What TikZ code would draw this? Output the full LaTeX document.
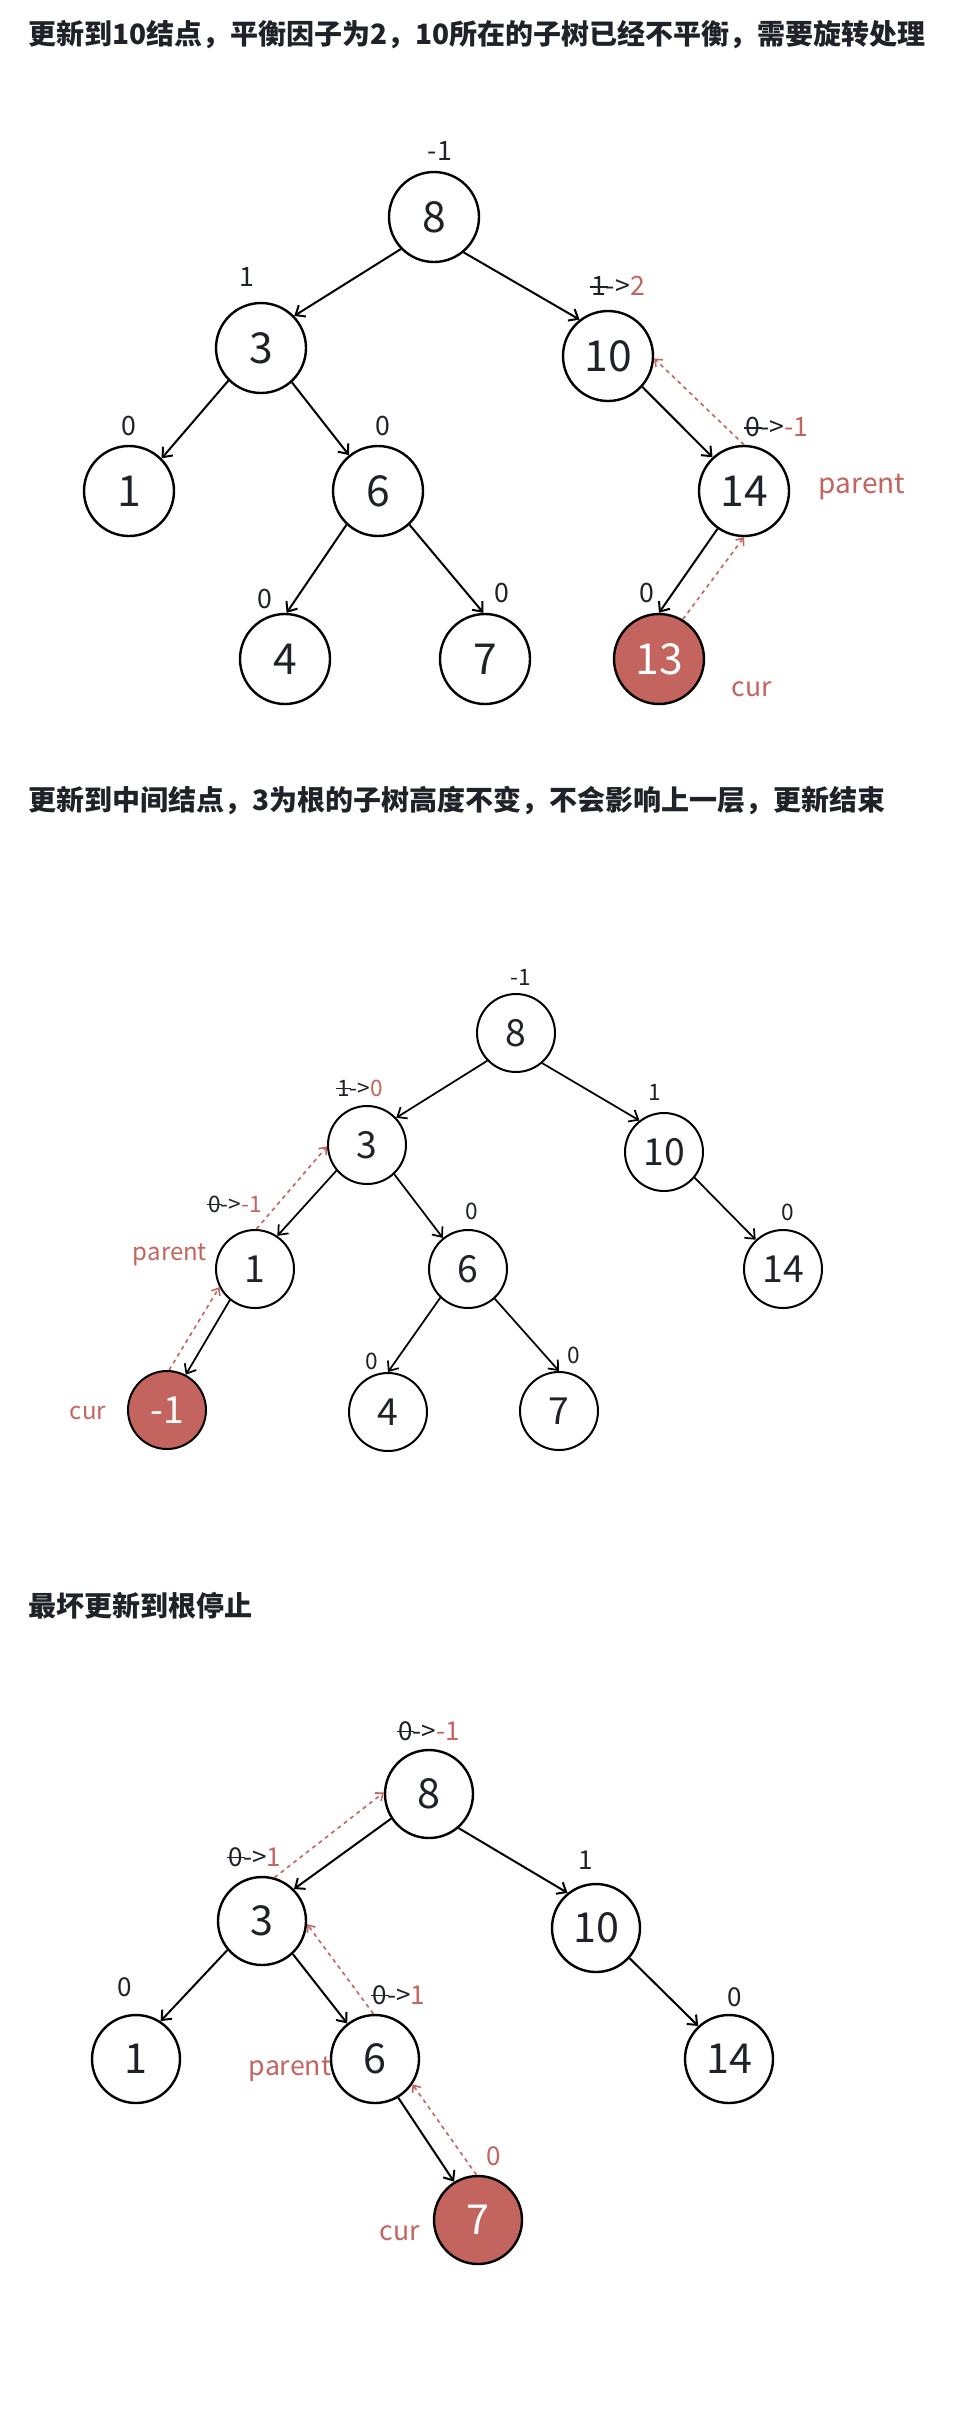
\documentclass[tikz,border=0pt]{standalone}
\usepackage{fontspec}
\setmainfont{Noto Sans CJK SC}
\usetikzlibrary{arrows.meta}
\definecolor{ink}{RGB}{31,35,41}
\definecolor{hl}{RGB}{196,100,95}
\newcommand{\fsz}[1]{\fontsize{#1pt}{#1pt}\selectfont}
\newcommand{\strk}[1]{\setbox0\hbox{#1}\rlap{\kern-0.06em\rule[0.3em]{\dimexpr\wd0+0.12em\relax}{0.07em}}\box0}
\tikzset{
  tnode/.style={circle, draw=black, line width=1.8pt, minimum size=#1, inner sep=0pt, text=ink},
  curnode/.style={tnode=#1, fill=hl, text=white},
  edgeA/.style={-{Straight Barb[length=6pt,width=10pt]}, line width=1.5pt, black},
  redge/.style={-{Straight Barb[length=4.5pt,width=7.5pt]}, line width=1.2pt, hl, dash pattern=on 3pt off 3pt},
  lbl/.style={text=ink, inner sep=0pt},
  rlbl/.style={text=hl, inner sep=0pt},
  ttl/.style={anchor=west, inner sep=0pt, font=\bfseries\fsz{21}, text=ink}
}
\begin{document}
\begin{tikzpicture}[x=0.75pt,y=-0.75pt]
\useasboundingbox[fill=white] (0,0) rectangle (975,2417);

% ---------- Titles ----------
\node[ttl] (t1) at (28,35) {更新到10结点，平衡因子为2，10所在的子树已经不平衡，需要旋转处理};
\node[ttl] (t2) at (28,801) {更新到中间结点，3为根的子树高度不变，不会影响上一层，更新结束};
\node[ttl] (t3) at (28,1606) {最坏更新到根停止};

% ---------- Section 1 ----------
\begin{scope}[every node/.append style={font=\fsz{32}}]
\node[tnode=67.5pt] (a8) at (434,217) {8};
\node[tnode=67.5pt] (a3) at (261,348) {3};
\node[tnode=67.5pt] (a1) at (129,491) {1};
\node[tnode=67.5pt] (a6) at (378,491) {6};
\node[tnode=67.5pt] (a4) at (285,659) {4};
\node[tnode=67.5pt] (a7) at (485,659) {7};
\node[tnode=67.5pt] (a10) at (608,356) {10};
\node[tnode=67.5pt] (a14) at (744,491) {14};
\node[curnode=67.5pt] (a13) at (659,659) {13};
\end{scope}
\begin{scope}[every node/.append style={font=\fsz{20}}]
\node[lbl] (la8) at (440,151) {-1};
\node[lbl] (la3) at (247,277) {1};
\node[lbl] (la1) at (129,426) {0};
\node[lbl] (la6) at (383,426) {0};
\node[lbl] (la4) at (265,599) {0};
\node[lbl] (la7) at (502,593) {0};
\node[lbl] (la10) at (618,286) {\strk{1}->{\color{hl}2}};
\node[lbl] (la14) at (777,427) {\strk{0}->{\color{hl}-1}};
\node[lbl] (la13) at (647,593) {0};
\node[rlbl, font=\fsz{21}] (pa) at (862,487) {parent};
\node[rlbl] (ca) at (752,689) {cur};
\end{scope}
\draw[edgeA] (a8.-136) -- (a3.44);
\draw[edgeA] (a8.-50) -- (a10.128);
\draw[edgeA] (a3.-135) -- (a1.45);
\draw[edgeA] (a3.-48) -- (a6.129);
\draw[edgeA] (a6.-133) -- (a4.88);
\draw[edgeA] (a6.-47) -- (a7.92);
\draw[edgeA] (a10.-42) -- (a14.133);
\draw[edgeA] (a14.-125) -- (a13.90);
\draw[redge] (a14.90) -- (a10.-3);
\draw[redge] (a13.59) -- (a14.-90);

% ---------- Section 2 ----------
\begin{scope}[every node/.append style={font=\fsz{28}}]
\node[tnode=58.5pt, line width=1.5pt] (b8) at (516,1033) {8};
\node[tnode=58.5pt, line width=1.5pt] (b3) at (367,1145) {3};
\node[tnode=58.5pt, line width=1.5pt] (b1) at (255,1269) {1};
\node[curnode=58.5pt, line width=1.5pt] (bm1) at (167,1410) {-1};
\node[tnode=58.5pt, line width=1.5pt] (b6) at (468,1269) {6};
\node[tnode=58.5pt, line width=1.5pt] (b4) at (388,1412) {4};
\node[tnode=58.5pt, line width=1.5pt] (b7) at (559,1411) {7};
\node[tnode=58.5pt, line width=1.5pt] (b10) at (664,1152) {10};
\node[tnode=58.5pt, line width=1.5pt] (b14) at (783,1269) {14};
\end{scope}
\begin{scope}[every node/.append style={font=\fsz{17}}]
\node[lbl] (lb8) at (521,977) {-1};
\node[lbl] (lb3) at (360,1088) {\strk{1}->{\color{hl}0}};
\node[lbl] (lb1) at (235,1204) {\strk{0}->{\color{hl}-1}};
\node[lbl] (lb6) at (472,1211) {0};
\node[lbl] (lb4) at (372,1361) {0};
\node[lbl] (lb7) at (574,1355) {0};
\node[lbl] (lb10) at (655,1092) {1};
\node[lbl] (lb14) at (788,1212) {0};
\node[rlbl, font=\fsz{18}] (pb) at (170,1255) {parent};
\node[rlbl, font=\fsz{18}] (cb) at (88,1413) {cur};
\end{scope}
\begin{scope}[edgeA/.append style={line width=1.3pt}]
\draw[edgeA] (b8.-136) -- (b3.43);
\draw[edgeA] (b8.-49) -- (b10.128);
\draw[edgeA] (b3.-140) -- (b1.56);
\draw[edgeA] (b3.-47) -- (b6.129);
\draw[edgeA] (b1.-129) -- (bm1.62);
\draw[edgeA] (b6.-134) -- (b4.90);
\draw[edgeA] (b6.-48) -- (b7.90);
\draw[edgeA] (b10.-40) -- (b14.133);
\end{scope}
\draw[redge] (b1.88) -- (b3.182);
\draw[redge] (bm1.87) -- (b1.207);

% ---------- Section 3 ----------
\begin{scope}[every node/.append style={font=\fsz{31}}]
\node[tnode=66pt] (c8) at (429,1794) {8};
\node[tnode=66pt] (c3) at (262,1921) {3};
\node[tnode=66pt] (c1) at (136,2059) {1};
\node[tnode=66pt] (c6) at (375,2059) {6};
\node[curnode=66pt] (c7) at (478,2220) {7};
\node[tnode=66pt] (c10) at (596,1928) {10};
\node[tnode=66pt] (c14) at (729,2059) {14};
\end{scope}
\begin{scope}[every node/.append style={font=\fsz{19.5}}]
\node[lbl] (lc8) at (429,1731) {\strk{0}->{\color{hl}-1}};
\node[lbl] (lc3) at (255,1857) {\strk{0}->{\color{hl}1}};
\node[lbl] (lc1) at (125,1987) {0};
\node[lbl] (lc6) at (399,1995) {\strk{0}->{\color{hl}1}};
\node[rlbl] (lc7) at (494,2156) {0};
\node[lbl] (lc10) at (586,1860) {1};
\node[lbl] (lc14) at (735,1997) {0};
\node[rlbl, font=\fsz{20}] (pc) at (290,2069) {parent};
\node[rlbl, font=\fsz{20}] (cc) at (400,2233) {cur};
\end{scope}
\draw[edgeA] (c8.-147) -- (c3.45);
\draw[edgeA] (c8.-49) -- (c10.129);
\draw[edgeA] (c3.-140) -- (c1.57);
\draw[edgeA] (c3.-47) -- (c6.128);
\draw[edgeA] (c6.-59) -- (c7.122);
\draw[edgeA] (c10.-42) -- (c14.133);
\draw[redge] (c3.74) -- (c8.178);
\draw[redge] (c6.92) -- (c3.-4);
\draw[redge] (c7.92) -- (c6.-34);
\end{tikzpicture}
\end{document}
